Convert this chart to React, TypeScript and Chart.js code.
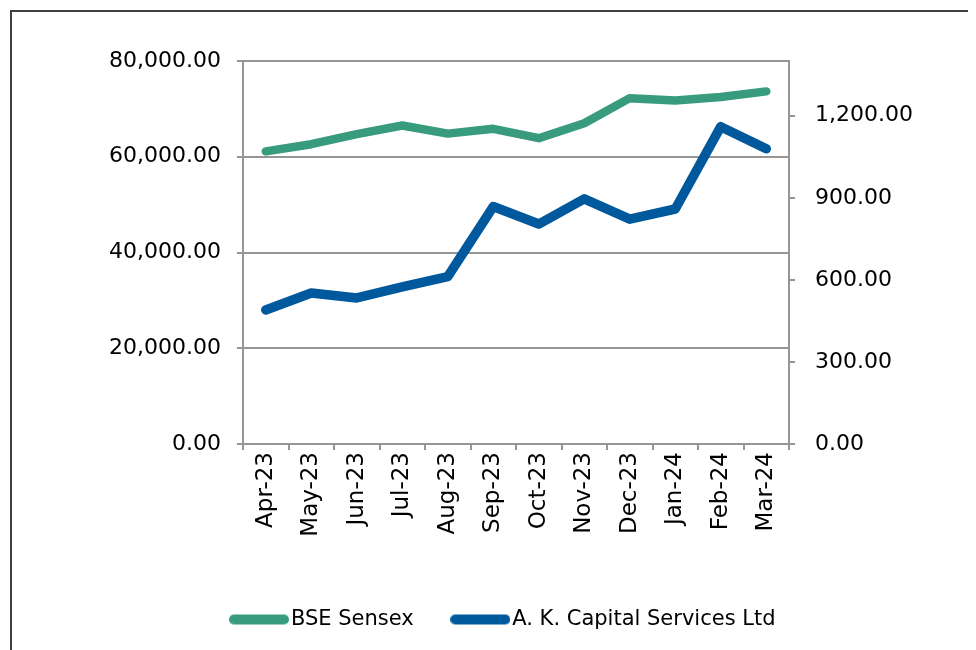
import React, { useEffect, useRef } from 'react';
import { Chart, registerables } from 'chart.js';

Chart.register(...registerables);

const months = ['Apr-23', 'May-23', 'Jun-23', 'Jul-23', 'Aug-23', 'Sep-23', 'Oct-23', 'Nov-23', 'Dec-23', 'Jan-24', 'Feb-24', 'Mar-24'];
const sensex = [61112, 62622, 64719, 66528, 64831, 65828, 63875, 66988, 72240, 71752, 72500, 73651];
const akCapital = [490, 552, 534, 574, 612, 868, 804, 896, 822, 859, 1160, 1079];
const leftTicks = [0, 20000, 40000, 60000, 80000];
const rightTicks = [0, 300, 600, 900, 1200];

const FONT = 'DejaVu Sans';
const GRID = '#959595';
const fmt = (v: number) => v.toLocaleString('en-US', { minimumFractionDigits: 2, maximumFractionDigits: 2 });

const W = 968;
const H = 642;
const PAD_LEFT = 29;
const PLOT_LEFT = 235;
const PLOT_RIGHT = 781;
const PLOT_TOP = 53;
const PLOT_BOTTOM = 436;
const PAD_BOTTOM = 10;
const LEGEND_FONT = 21;
const LEGEND_BOX = 43;

function makeLegendLine(color: string): HTMLCanvasElement {
  const c = document.createElement('canvas');
  const w = LEGEND_BOX + LEGEND_FONT / 2 * 2 - 4;
  c.width = w;
  c.height = 12;
  const ctx = c.getContext('2d')!;
  ctx.strokeStyle = color;
  ctx.lineWidth = 10;
  ctx.lineCap = 'round';
  ctx.beginPath();
  ctx.moveTo(5, 6);
  ctx.lineTo(w - 5, 6);
  ctx.stroke();
  return c;
}

export default function App() {
  const ref = useRef<HTMLCanvasElement | null>(null);

  useEffect(() => {
    if (!ref.current) return;
    const chart = new Chart(ref.current, {
      type: 'line',
      data: {
        labels: months,
        datasets: [
          {
            label: 'BSE Sensex',
            data: sensex,
            yAxisID: 'y',
            borderColor: '#389B7E',
            backgroundColor: '#389B7E',
            borderWidth: 8.5,
            borderCapStyle: 'round',
            borderJoinStyle: 'round',
            pointRadius: 0,
            tension: 0,
          },
          {
            label: 'A. K. Capital Services Ltd',
            data: akCapital,
            yAxisID: 'y1',
            borderColor: '#00599D',
            backgroundColor: '#00599D',
            borderWidth: 9.5,
            borderCapStyle: 'round',
            borderJoinStyle: 'round',
            pointRadius: 0,
            tension: 0,
          },
        ],
      },
      options: {
        animation: false,
        responsive: false,
        maintainAspectRatio: false,
        layout: { padding: { top: PLOT_TOP, bottom: PAD_BOTTOM, left: PAD_LEFT, right: 0 } },
        plugins: {
          tooltip: { enabled: false },
          legend: {
            position: 'bottom',
            labels: {
              usePointStyle: true,
              pointStyleWidth: LEGEND_BOX,
              padding: 45,
              color: '#000',
              font: { family: FONT, size: LEGEND_FONT },
              generateLabels: (c: any) =>
                c.data.datasets.map((ds: any, i: number) => ({
                  text: ds.label,
                  fillStyle: ds.borderColor,
                  strokeStyle: ds.borderColor,
                  lineWidth: 0,
                  pointStyle: makeLegendLine(ds.borderColor),
                  datasetIndex: i,
                  hidden: false,
                  fontColor: '#000',
                })),
            },
          },
        },
        scales: {
          x: {
            type: 'category',
            offset: true,
            grid: { display: true, drawOnChartArea: false, drawTicks: true, tickLength: 6, offset: true, color: GRID, lineWidth: 2 },
            border: { display: true, color: GRID, width: 2 },
            ticks: {
              color: '#000',
              font: { family: FONT, size: 23 },
              minRotation: 90,
              maxRotation: 90,
              padding: 2,
              autoSkip: false,
            },
            afterFit: (scale: any) => {
              const lh = scale.chart.legend ? scale.chart.legend.height : 0;
              scale.height = H - PLOT_BOTTOM - lh - PAD_BOTTOM;
            },
          },
          y: {
            position: 'left',
            min: 0,
            max: 80000,
            afterBuildTicks: (scale: any) => {
              scale.ticks = leftTicks.map((v) => ({ value: v }));
            },
            grid: { color: GRID, lineWidth: 2, drawTicks: true, tickLength: 6 },
            border: { display: true, color: GRID, width: 2 },
            ticks: {
              color: '#000',
              font: { family: FONT, size: 22 },
              padding: 16,
              callback: (v: any) => fmt(Number(v)),
            },
            afterFit: (scale: any) => {
              scale.width = PLOT_LEFT - PAD_LEFT;
            },
          },
          y1: {
            position: 'right',
            min: 0,
            max: 1400,
            afterBuildTicks: (scale: any) => {
              scale.ticks = rightTicks.map((v) => ({ value: v }));
            },
            grid: { drawOnChartArea: false, color: GRID, lineWidth: 2, drawTicks: true, tickLength: 6 },
            border: { display: true, color: GRID, width: 2 },
            ticks: {
              color: '#000',
              font: { family: FONT, size: 22 },
              padding: 20,
              callback: (v: any) => fmt(Number(v)),
            },
            afterFit: (scale: any) => {
              scale.width = W - PLOT_RIGHT;
            },
          },
        },
      },
    });
    return () => chart.destroy();
  }, []);

  return (
    <div style={{ position: 'relative', width: W, height: H, overflow: 'hidden', background: '#fff' }}>
      <div
        style={{
          position: 'absolute',
          left: 2,
          top: 2,
          width: 3000,
          height: 3000,
          border: '2px solid #3f3f3f',
          boxSizing: 'border-box',
        }}
      />
      <canvas ref={ref} width={W} height={H} style={{ position: 'absolute', left: 0, top: 0, width: W, height: H }} />
    </div>
  );
}
